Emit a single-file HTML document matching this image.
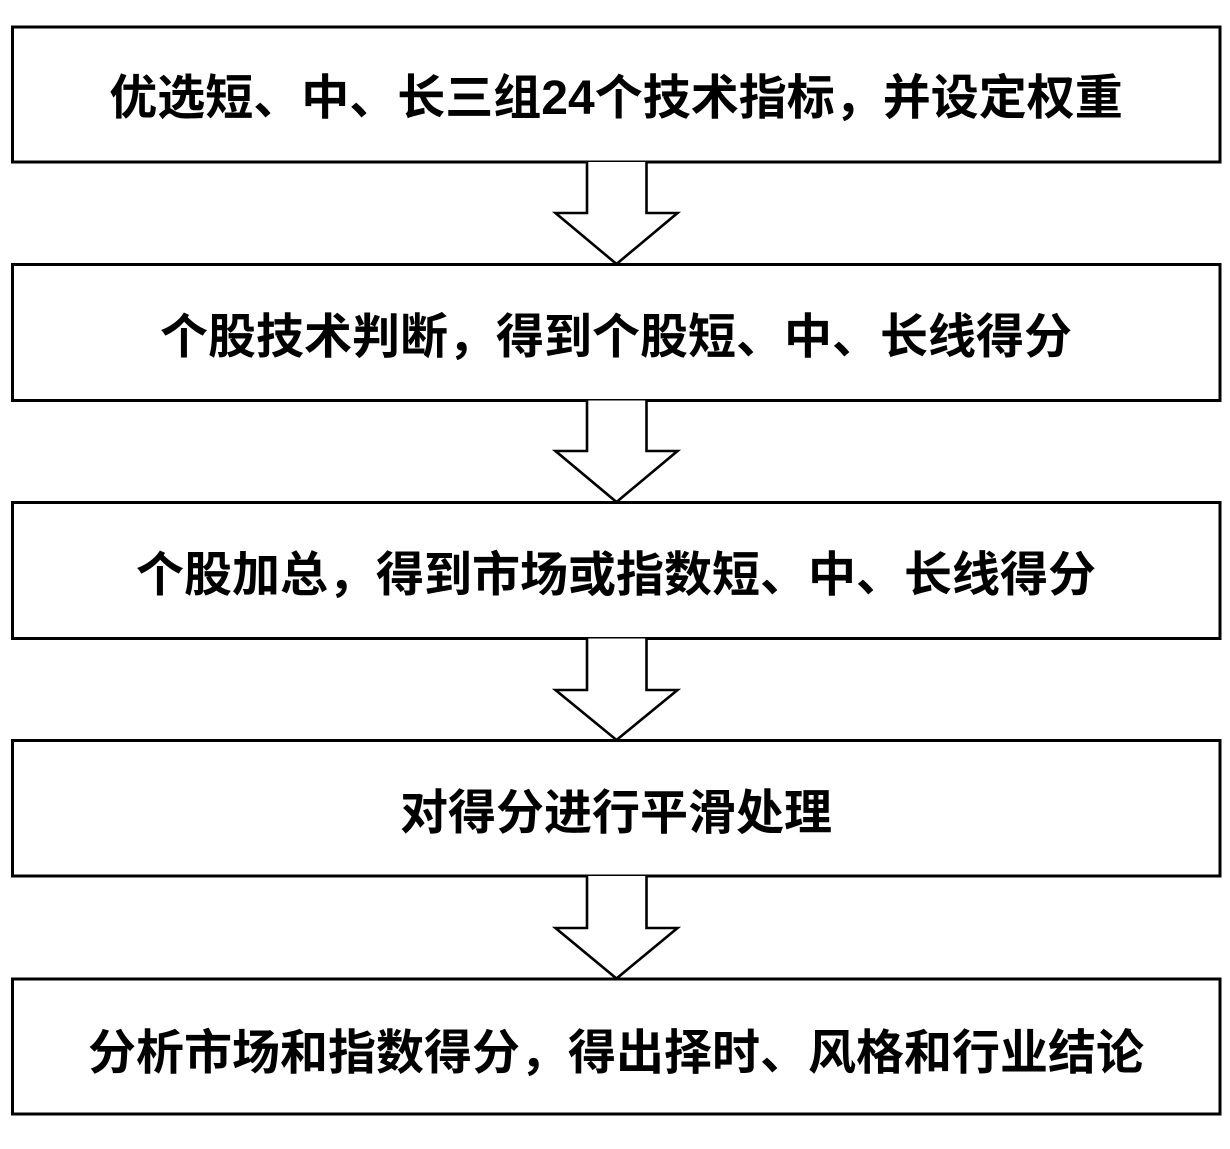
<!DOCTYPE html>
<html>
<head>
<meta charset="utf-8">
<style>
  html, body { margin:0; padding:0; background:#ffffff; }
  body { width:1230px; height:1149px; position:relative; overflow:hidden; }
  svg { position:absolute; left:0; top:0; }
  .t {
    position:absolute; left:12px; width:1208px; text-align:center;
    font-family:"Liberation Sans","Noto Sans CJK SC","WenQuanYi Zen Hei",sans-serif;
    font-weight:bold; color:#000; white-space:nowrap;
    font-size:48px; height:48px; line-height:48px;
  }
</style>
</head>
<body>
<svg width="1230" height="1149" viewBox="0 0 1230 1149" xmlns="http://www.w3.org/2000/svg">
  <g fill="#fff" stroke="#000" stroke-width="3">
    <rect x="12.5" y="27" width="1207.5" height="135"/>
    <rect x="12.5" y="264.5" width="1207.5" height="136"/>
    <rect x="12.5" y="502.5" width="1207.5" height="136"/>
    <rect x="12.5" y="740.5" width="1207.5" height="135.5"/>
    <rect x="12.5" y="979" width="1207.5" height="135"/>
  </g>
  <g fill="#fff" stroke="#000" stroke-width="2.6" stroke-linejoin="miter">
    <polyline points="587,162 587,213 555.5,213 616.5,264 677.5,213 646.5,213 646.5,162"/>
    <polyline points="587,400.5 587,451 555.5,451 616.5,502 677.5,451 646.5,451 646.5,400.5"/>
    <polyline points="587,638.5 587,690 555.5,690 616.5,740 677.5,690 646.5,690 646.5,638.5"/>
    <polyline points="587,876 587,928 555.5,928 616.5,978.5 677.5,928 646.5,928 646.5,876"/>
  </g>
</svg>
<div class="t" style="top:75px;">优选短、中、长三组24个技术指标，并设定权重</div>
<div class="t" style="top:314px;">个股技术判断，得到个股短、中、长线得分</div>
<div class="t" style="top:552px;">个股加总，得到市场或指数短、中、长线得分</div>
<div class="t" style="top:790px;">对得分进行平滑处理</div>
<div class="t" style="top:1030px;">分析市场和指数得分，得出择时、风格和行业结论</div>
</body>
</html>
